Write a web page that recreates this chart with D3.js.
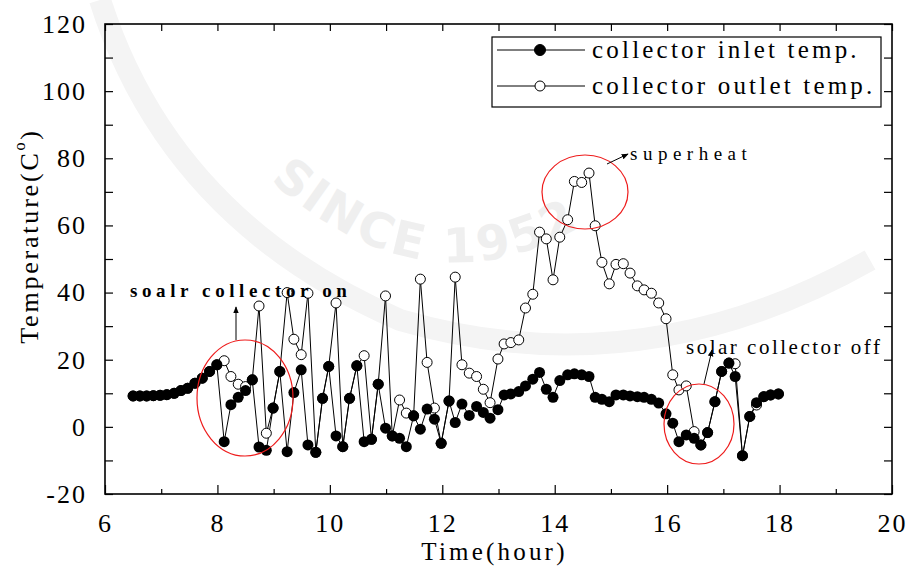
<meta charset="utf-8">
<script src="https://d3js.org/d3.v7.min.js"></script>
<body style="margin:0;background:#fff"></body>
<script>

// DATA (time in hours, temperature in C)
var times = [6.50, 6.62, 6.74, 6.86, 6.98, 7.10, 7.23, 7.35, 7.47, 7.60, 7.73, 7.86, 7.99,
    8.12, 8.24, 8.37, 8.50, 8.62, 8.74, 8.87, 8.99, 9.11, 9.24, 9.36, 9.49, 9.61, 9.75, 9.87, 9.98,
    10.11, 10.23, 10.35, 10.48, 10.61, 10.74, 10.86, 10.99, 11.11, 11.24, 11.36, 11.49, 11.61, 11.73,
    11.86, 11.98, 12.12, 12.23, 12.35, 12.48, 12.61, 12.73, 12.85, 12.99, 13.10, 13.22, 13.36, 13.48,
    13.61, 13.73, 13.85, 13.97, 14.09, 14.23, 14.35, 14.48, 14.61, 14.72, 14.84, 14.97, 15.09, 15.22,
    15.34, 15.47, 15.59, 15.72, 15.85, 15.98, 16.10, 16.21, 16.34, 16.48, 16.60, 16.72, 16.85, 16.97,
    17.10, 17.21, 17.34, 17.47, 17.59, 17.72, 17.84, 17.98];
var inlet = [9.2, 9.2, 9.2, 9.3, 9.4, 9.6, 10.0, 10.8, 11.5, 13.0, 14.5, 16.5, 18.5,
    -4.4, 6.6, 8.8, 10.8, 14.0, -6.0, -7.0, 5.6, 16.5, -7.4, 10.2, 17.0, -5.4, -7.6, 8.5, 18.0,
    -2.7, -5.9, 8.5, 18.2, -4.4, -3.7, 12.7, -0.4, -2.7, -3.4, -5.9, 3.3, -0.7, 5.3,
    2.3, -4.9, 7.7, 1.3, 6.8, 3.4, 6.1, 4.3, 2.6, 5.1, 9.5, 9.8, 10.5, 12.2,
    14.2, 16.2, 11.2, 8.8, 13.8, 15.5, 15.8, 15.5, 15.0, 8.8, 8.2, 7.5, 9.5, 9.5,
    9.2, 9.0, 8.8, 8.2, 7.1, 3.9, 1.1, -4.4, -2.4, -3.4, -5.4, -1.7, 7.5, 16.5,
    19.0, 15.0, -8.6, 3.1, 7.2, 9.0, 9.5, 9.8];
var outlet = [9.2, 9.2, 9.2, 9.3, 9.4, 9.6, 10.0, 10.8, 11.5, 13.0, 14.5, 16.5, 18.5,
    19.7, 15.0, 12.7, 12.0, 14.0, 36.0, -1.9, 5.6, 16.5, 40.0, 26.1, 21.5, 39.8, -7.6, 8.5, 18.0,
    36.9, -5.9, 8.5, 18.2, 21.2, -3.7, 12.7, 39.0, -2.7, 8.0, 4.1, 3.3, 44.0, 19.2,
    5.6, -4.9, 7.7, 44.6, 18.5, 16.0, 15.0, 11.2, 7.2, 20.2, 24.7, 25.1, 25.9, 35.4,
    39.5, 58.0, 56.0, 43.8, 56.5, 61.7, 73.1, 72.8, 75.6, 59.9, 49.0, 42.6, 48.4, 48.6,
    45.8, 42.0, 40.8, 39.8, 36.9, 32.2, 15.5, 11.0, 12.2, -1.4, -5.4, -1.7, 7.5, 16.5,
    19.0, 18.8, -8.6, 3.1, 6.5, 9.0, 9.5, 9.8];
var seriesNames = ['collector inlet temp.', 'collector outlet temp.'];
var xTicks = [6, 8, 10, 12, 14, 16, 18, 20];
var yTicks = [-20, 0, 20, 40, 60, 80, 100, 120];

// SETTINGS
var ww = 909, wh = 566;
var pl = 105, pr = 892, pt = 24, pb = 494;
var font = 'Liberation Serif, Times New Roman, serif';
var svg = d3.select('body').append('svg')
    .attr('width', ww)
    .attr('height', wh);

var x = d3.scaleLinear().domain([6, 20]).range([pl, pr]);
var y = d3.scaleLinear().domain([-20, 120]).range([pb, pt]);

// faint watermark behind the plot
svg.append('path')
    .attr('d', 'M 100,0 Q 170,220 400,320 Q 640,390 870,260')
    .attr('fill', 'none').attr('stroke', '#f4f4f4').attr('stroke-width', 22);
svg.append('defs').append('path')
    .attr('id', 'wmarc')
    .attr('d', 'M 270,180 Q 455,345 645,180');
svg.append('text')
    .attr('font-family', 'DejaVu Sans, sans-serif')
    .attr('font-weight', 'bold')
    .attr('font-size', 48)
    .attr('fill', '#efefef')
    .attr('letter-spacing', 3)
    .append('textPath')
    .attr('href', '#wmarc')
    .text('SINCE 1952');

// frame
svg.append('rect')
    .attr('x', pl).attr('y', pt)
    .attr('width', pr - pl).attr('height', pb - pt)
    .attr('fill', 'none').attr('stroke', '#000').attr('stroke-width', 1.6);

// axes (ticks pointing inward, every 1 h / 10 C)
function styleAxis(g) {
    g.select('.domain').remove();
    g.selectAll('text').attr('font-family', font).attr('font-size', 26)
        .attr('letter-spacing', 2).attr('fill', '#000');
    g.selectAll('text').filter(function () { return this.textContent === ''; }).remove();
    g.selectAll('line').attr('stroke', '#000').attr('stroke-width', 1.2);
}
var xMinor = d3.range(6, 21, 1);
var yMinor = d3.range(-20, 121, 10);

svg.append('g').attr('transform', 'translate(0,' + pb + ')')
    .call(d3.axisBottom(x).tickValues(xMinor).tickSizeInner(-8).tickPadding(20)
        .tickFormat(function (d) { return xTicks.indexOf(d) >= 0 ? d : ''; }))
    .call(styleAxis)
    .selectAll('.tick line').attr('y2', function (d) { return xTicks.indexOf(d) >= 0 ? -9 : -5; });
svg.append('g').attr('transform', 'translate(0,' + pt + ')')
    .call(d3.axisTop(x).tickValues(xMinor).tickSizeInner(-7).tickFormat(''))
    .call(styleAxis);
svg.append('g').attr('transform', 'translate(' + pl + ',0)')
    .call(d3.axisLeft(y).tickValues(yMinor).tickSizeInner(-8).tickPadding(18)
        .tickFormat(function (d) { return yTicks.indexOf(d) >= 0 ? d : ''; }))
    .call(styleAxis);
svg.append('g').attr('transform', 'translate(' + pr + ',0)')
    .call(d3.axisRight(y).tickValues(yMinor).tickSizeInner(-8).tickFormat(''))
    .call(styleAxis);

// axis titles
svg.append('text')
    .attr('x', (pl + pr) / 2 - 4).attr('y', 560)
    .attr('text-anchor', 'middle')
    .attr('font-family', font).attr('font-size', 25).attr('letter-spacing', 3.2)
    .text('Time(hour)');
var ytitle = svg.append('text')
    .attr('transform', 'translate(38,236) rotate(-90)')
    .attr('text-anchor', 'middle')
    .attr('font-family', font).attr('font-size', 26).attr('letter-spacing', 2.8);
ytitle.append('tspan').text('Temperature(C');
ytitle.append('tspan').attr('font-size', 16).attr('dy', -13).text('o');
ytitle.append('tspan').attr('dy', 13).text(')');

// series
var pts = times.map(function (t, i) { return { t: t, a: inlet[i], b: outlet[i] }; });
var lineOut = d3.line().x(function (d) { return x(d.t); }).y(function (d) { return y(d.b); });
var lineIn = d3.line().x(function (d) { return x(d.t); }).y(function (d) { return y(d.a); });
var plot = svg.append('g');
plot.append('path').attr('d', lineOut(pts))
    .attr('fill', 'none').attr('stroke', '#000').attr('stroke-width', 1);
plot.append('path').attr('d', lineIn(pts))
    .attr('fill', 'none').attr('stroke', '#000').attr('stroke-width', 1);
plot.selectAll('.outc').data(pts).enter().append('circle')
    .attr('class', 'outc')
    .attr('cx', function (d) { return x(d.t); })
    .attr('cy', function (d) { return y(d.b); })
    .attr('r', 5)
    .attr('fill', '#fff').attr('stroke', '#000').attr('stroke-width', 1);
plot.selectAll('.inc').data(pts).enter().append('circle')
    .attr('class', 'inc')
    .attr('cx', function (d) { return x(d.t); })
    .attr('cy', function (d) { return y(d.a); })
    .attr('r', 5.5)
    .attr('fill', '#000');

// legend
var lg = svg.append('g');
lg.append('rect').attr('x', 492).attr('y', 37).attr('width', 389).attr('height', 70)
    .attr('fill', '#fff').attr('stroke', '#000').attr('stroke-width', 1.2);
[50, 86].forEach(function (ly, i) {
    lg.append('line').attr('x1', 497).attr('x2', 585).attr('y1', ly).attr('y2', ly)
        .attr('stroke', '#000').attr('stroke-width', 1);
    lg.append('circle').attr('cx', 540).attr('cy', ly).attr('r', i == 0 ? 5.5 : 5)
        .attr('fill', i == 0 ? '#000' : '#fff').attr('stroke', '#000');
    lg.append('text').attr('x', 592).attr('y', ly + 8)
        .attr('font-family', font).attr('font-size', 25).attr('letter-spacing', 3.2)
        .text(seriesNames[i]);
});

// annotations
var red = '#ee1c1c';
function ellipse(cx, cy, rx, ry) {
    svg.append('ellipse').attr('cx', cx).attr('cy', cy).attr('rx', rx).attr('ry', ry)
        .attr('fill', 'none').attr('stroke', red).attr('stroke-width', 1.2);
}
ellipse(245, 398, 48, 58);
ellipse(585, 192, 43, 37);
ellipse(699, 424, 35, 40);

svg.append('defs').append('marker')
    .attr('id', 'ah').attr('viewBox', '0 0 10 10').attr('refX', 9).attr('refY', 5)
    .attr('markerWidth', 7).attr('markerHeight', 7).attr('orient', 'auto')
    .append('path').attr('d', 'M0,1 L10,5 L0,9 Z').attr('fill', '#000');
function arrow(x1, y1, x2, y2) {
    svg.append('line').attr('x1', x1).attr('y1', y1).attr('x2', x2).attr('y2', y2)
        .attr('stroke', '#000').attr('stroke-width', 1).attr('marker-end', 'url(#ah)');
}
arrow(236, 340, 236, 307);
arrow(607, 164, 628, 154);
arrow(704, 384, 712, 350);

svg.append('text').attr('x', 130).attr('y', 297)
    .attr('font-family', font).attr('font-weight', 'bold').attr('font-size', 19)
    .attr('letter-spacing', 4.6).text('soalr collector on');
svg.append('text').attr('x', 630).attr('y', 160)
    .attr('font-family', font).attr('font-size', 19)
    .attr('letter-spacing', 5.5).text('superheat');
svg.append('text').attr('x', 686).attr('y', 354)
    .attr('font-family', font).attr('font-size', 21)
    .attr('letter-spacing', 2.5).text('solar collector off');

</script>
